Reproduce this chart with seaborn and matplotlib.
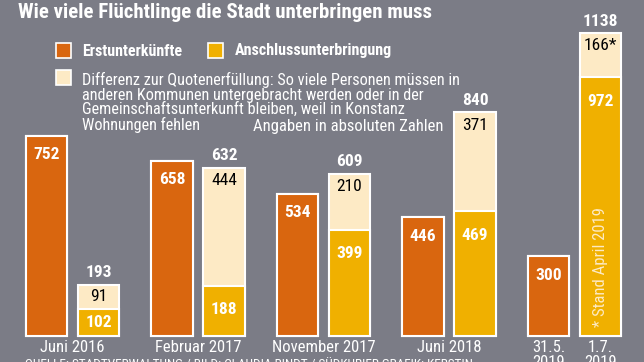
import pandas as pd
import seaborn as sns
import matplotlib.pyplot as plt
from matplotlib.patches import Rectangle

# Daten aus der Grafik
perioden = ['Juni 2016', 'Februar 2017', 'November 2017', 'Juni 2018', '2019']
erstunterkuenfte = [752, 658, 534, 446, 300]
anschluss = [102, 188, 399, 469, 972]
differenz = [91, 444, 210, 371, 166]
differenz_labels = ['91', '444', '210', '371', '166*']
tick_labels_2019 = ['31.5.\n2019', '1.7.\n2019']

ORANGE = '#d9660f'
GELB = '#f0b000'
CREME = '#fdeac5'
GRAU = '#7b7c86'
WEISS = '#ffffff'
FONT = ['Roboto Condensed', 'Roboto', 'DejaVu Sans']

gesamt = [a + d for a, d in zip(anschluss, differenz)]

df_oben = pd.DataFrame({
    'periode': perioden * 2,
    'art': ['Erst'] * 5 + ['Anschluss'] * 5,
    'wert': erstunterkuenfte + gesamt,
})
df_unten = pd.DataFrame({
    'periode': perioden * 2,
    'art': ['Erst'] * 5 + ['Anschluss'] * 5,
    'wert': erstunterkuenfte + anschluss,
})

sns.set_theme(style='white')
plt.rcParams['font.family'] = FONT

W, H = 644, 362
fig = plt.figure(figsize=(W / 100, H / 100), dpi=100, facecolor=GRAU)
ax = fig.add_axes([0, 0, 1, 1])
ax.set_facecolor(GRAU)

hue_order = ['Erst', 'Anschluss']
bar_kw = dict(x='periode', y='wert', hue='art', hue_order=hue_order, order=perioden,
              width=0.83, gap=0.2, edgecolor=WEISS, linewidth=1.5, saturation=1,
              legend=False, errorbar=None, ax=ax)
sns.barplot(data=df_oben, palette={'Erst': ORANGE, 'Anschluss': CREME}, **bar_kw)
cont_erst, cont_gesamt = ax.containers[0], ax.containers[1]
sns.barplot(data=df_unten, palette={'Erst': ORANGE, 'Anschluss': GELB}, **bar_kw)
cont_gelb = ax.containers[-1]

# Skala: Basislinie bei y=336 px, 1138 bei y=33 px
ppu = (336 - 33) / 1138
ax.set_ylim(-(H - 336) / ppu, 336 / ppu)
ax.set_xlim(-72.5 / 125.5, (W - 72.5) / 125.5)
ax.axis('off')

def pt(px):
    return px * 0.72

def label(bar, text, dy_px, color=WEISS, weight='bold'):
    x = bar.get_x() + bar.get_width() / 2
    y = bar.get_y() + bar.get_height()
    ax.annotate(text, (x, y), xytext=(0, pt(dy_px)), textcoords='offset points',
                ha='center', va='center', color=color, fontsize=12.5, fontweight=weight)

for i, bar in enumerate(cont_erst):
    label(bar, str(erstunterkuenfte[i]), -19)

for i, bar in enumerate(cont_gesamt):
    label(bar, str(gesamt[i]), 12)
    seg_px = differenz[i] * ppu
    label(bar, differenz_labels[i], -min(13, seg_px / 2), color='black', weight='normal')

for i, bar in enumerate(cont_gelb):
    h_px = anschluss[i] * ppu
    label(bar, str(anschluss[i]), -min(24, h_px / 2))

# Hinweis im letzten Balken
b = cont_gelb[-1]
ax.text(b.get_x() + b.get_width() / 2, 9 / ppu, '* Stand April 2019', rotation=90,
        ha='center', va='bottom', color=CREME, fontsize=12)

# Achsenbeschriftungen
tr = ax.get_xaxis_transform()
y_tick = 1 - 347 / H
for i, p in enumerate(perioden[:-1]):
    ax.text(i, y_tick, p, transform=tr, ha='center', va='center', color=WEISS, fontsize=12)
for bar, txt in zip([cont_erst[-1], cont_gelb[-1]], tick_labels_2019):
    ax.text(bar.get_x() + bar.get_width() / 2, 1 - 355 / H, txt, transform=tr,
            ha='center', va='center', color=WEISS, fontsize=12, linespacing=1.0)

def fx(px):
    return px / W

def fy(px):
    return 1 - px / H

# Titel (oben angeschnitten)
fig.text(fx(18), fy(12), 'Wie viele Flüchtlinge die Stadt unterbringen muss',
         ha='left', va='center', color=WEISS, fontsize=15, fontweight='bold')

# Legende
for x0, y0, c in [(56, 43, ORANGE), (208, 43, GELB), (56, 70, CREME)]:
    fig.patches.append(Rectangle((fx(x0), fy(y0 + 15)), 15 / W, 15 / H, transform=fig.transFigure,
                                 facecolor=c, edgecolor=WEISS, linewidth=1.2))
fig.text(fx(82), fy(51), 'Erstunterkünfte', ha='left', va='center', color=WEISS,
         fontsize=11.5, fontweight='bold')
fig.text(fx(235), fy(51), 'Anschlussunterbringung', ha='left', va='center', color=WEISS,
         fontsize=11.5, fontweight='bold')
fig.text(fx(82), fy(72), 'Differenz zur Quotenerfüllung: So viele Personen müssen in\n'
         'anderen Kommunen untergebracht werden oder in der\n'
         'Gemeinschaftsunterkunft bleiben, weil in Konstanz\n'
         'Wohnungen fehlen', ha='left', va='top', color=WEISS, fontsize=11.7, linespacing=0.96)
fig.text(fx(253), fy(126), 'Angaben in absoluten Zahlen', ha='left', va='center',
         color=WEISS, fontsize=12)

# Quelle (unten angeschnitten)
fig.text(fx(25), fy(358.5), 'QUELLE: STADTVERWALTUNG / BILD: CLAUDIA RINDT / SÜDKURIER GRAFIK: KERSTIN',
         ha='left', va='top', color=WEISS, fontsize=9.5)

fig.savefig('out.png', dpi=100, facecolor=GRAU)
